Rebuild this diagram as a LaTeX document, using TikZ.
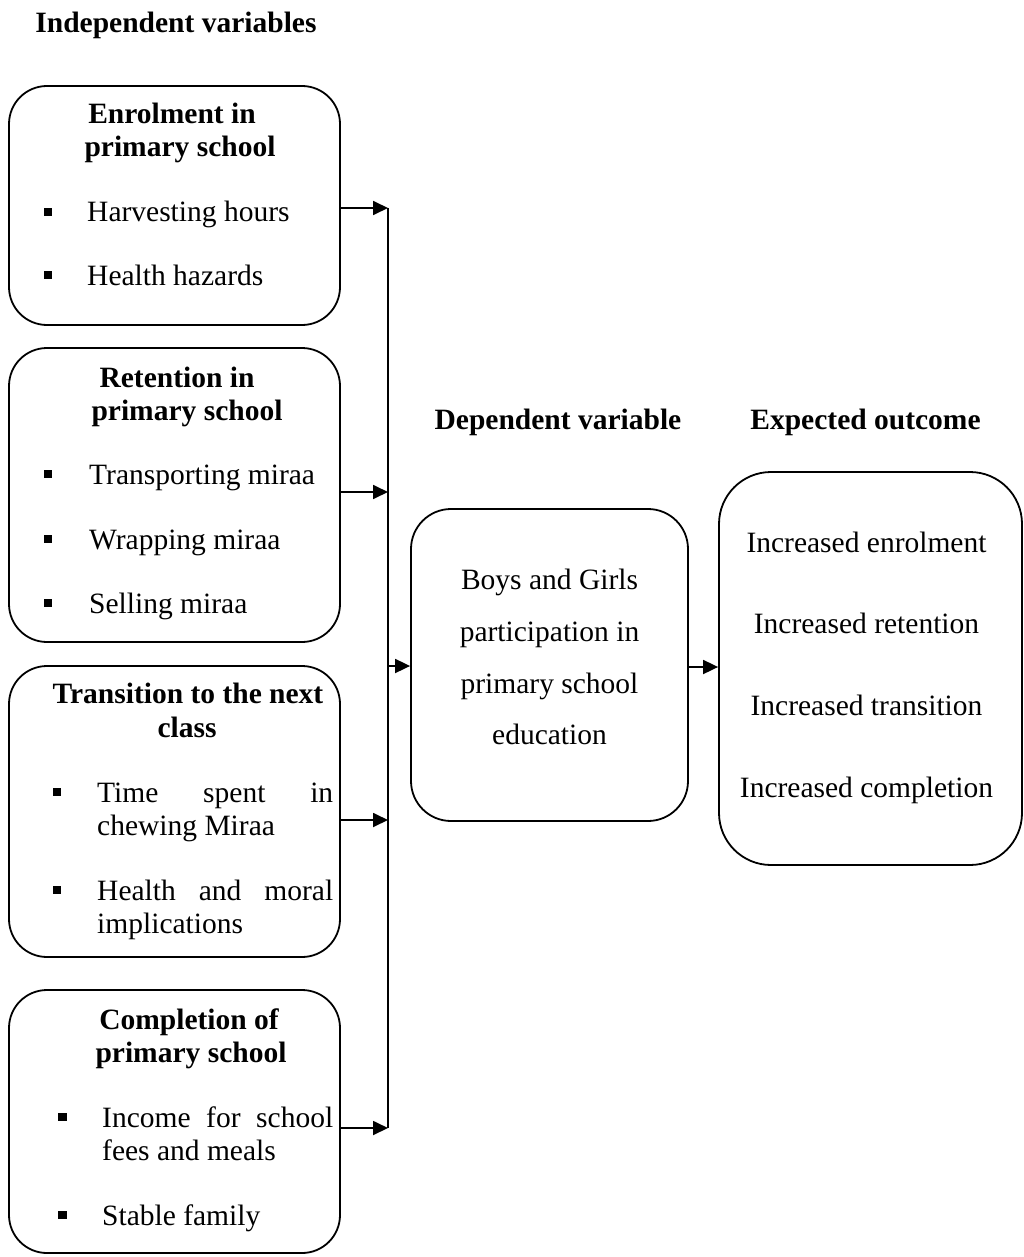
\documentclass[tikz,border=0pt]{standalone}
\usepackage{fontspec}
\setmainfont{Liberation Serif}
\usetikzlibrary{arrows.meta}
\begin{document}
\begin{tikzpicture}[x=1pt,y=-1pt,
  box/.style={draw,line width=1.8pt,inner sep=0pt},
  txt/.style={anchor=base,inner sep=0pt,font=\fontsize{29.5}{34}\selectfont},
  ltxt/.style={txt,anchor=base west},
  head/.style={txt,font=\fontsize{29.5}{34}\selectfont\bfseries},
  bul/.style={fill=black,inner sep=0pt,minimum size=8.5pt},
  link/.style={line width=1.8pt},
  arr/.style={line width=1.8pt,-{Triangle[length=15pt,width=14pt]}}]
\useasboundingbox (0,0) rectangle (1024,1257);

% title
\node[head] (title) at (176,33) {Independent variables};

% box 1
\node[box,rounded corners=38pt,minimum width=331pt,minimum height=239pt] (b1) at (174.5,205.5) {};
\node[head] (b1h1) at (172,124) {Enrolment in};
\node[head] (b1h2) at (180,157) {primary school};
\node[bul] (b1p1) at (48,212) {};
\node[ltxt] (b1t1) at (87,222) {Harvesting hours};
\node[bul] (b1p2) at (48,275) {};
\node[ltxt] (b1t2) at (87,285) {Health hazards};

% box 2
\node[box,rounded corners=38pt,minimum width=331pt,minimum height=294pt] (b2) at (174.5,495) {};
\node[head] (b2h1) at (177,387) {Retention in};
\node[head] (b2h2) at (187,420) {primary school};
\node[bul] (b2p1) at (48,474) {};
\node[ltxt] (b2t1) at (89,484) {Transporting miraa};
\node[bul] (b2p2) at (48,539) {};
\node[ltxt] (b2t2) at (89,549) {Wrapping miraa};
\node[bul] (b2p3) at (48,603) {};
\node[ltxt] (b2t3) at (89,613) {Selling miraa};

% box 3
\node[box,rounded corners=38pt,minimum width=331pt,minimum height=291pt] (b3) at (174.5,811.5) {};
\node[head] (b3h1) at (188,703) {Transition to the next};
\node[head] (b3h2) at (187,737) {class};
\node[bul] (b3p1) at (57,792) {};
\node[ltxt] (b3t1) at (97,802) {\makebox[236pt][s]{Time spent in}};
\node[ltxt] (b3t2) at (97,835) {chewing Miraa};
\node[bul] (b3p2) at (57,890) {};
\node[ltxt] (b3t3) at (97,900) {\makebox[236pt][s]{Health and moral}};
\node[ltxt] (b3t4) at (97,933) {implications};

% box 4
\node[box,rounded corners=38pt,minimum width=331pt,minimum height=263pt] (b4) at (174.5,1121.5) {};
\node[head] (b4h1) at (189,1029) {Completion of};
\node[head] (b4h2) at (191,1062) {primary school};
\node[bul] (b4p1) at (62.5,1117) {};
\node[ltxt] (b4t1) at (102,1127) {\makebox[231pt][s]{Income for school}};
\node[ltxt] (b4t2) at (102,1160) {fees and meals};
\node[bul] (b4p2) at (62.5,1215) {};
\node[ltxt] (b4t3) at (102,1225) {Stable family};

% dependent
\node[head] (deph) at (558,429) {Dependent variable};
\node[box,rounded corners=40pt,minimum width=277pt,minimum height=312pt] (dep) at (549.5,665) {};
\node[txt] (dept1) at (549.5,589) {Boys and Girls};
\node[txt] (dept2) at (549.5,641) {participation in};
\node[txt] (dept3) at (549.5,693) {primary school};
\node[txt] (dept4) at (549.5,744) {education};

% outcome
\node[head] (outh) at (865.5,429) {Expected outcome};
\node[box,rounded corners=52pt,minimum width=303pt,minimum height=393pt] (out) at (870.5,668.5) {};
\node[txt] (outt1) at (866.5,552) {Increased enrolment};
\node[txt] (outt2) at (866.5,633) {Increased retention};
\node[txt] (outt3) at (866.5,715) {Increased transition};
\node[txt] (outt4) at (866.5,797) {Increased completion};

% bus
\coordinate (J1) at (388,208);
\coordinate (J2) at (388,492);
\coordinate (J3) at (388,820);
\coordinate (J4) at (388,1128);
\coordinate (JM) at (388,666);

\draw[link] (J1) -- (J4);
\draw[arr] (b1.east |- J1) -- (J1);
\draw[arr] (b2.east |- J2) -- (J2);
\draw[arr] (b3.east |- J3) -- (J3);
\draw[arr] (b4.east |- J4) -- (J4);
\draw[arr] (JM) -- (dep.west |- JM);
\draw[arr] (dep.east |- 0,667) -- (out.west |- 0,667);
\end{tikzpicture}
\end{document}
